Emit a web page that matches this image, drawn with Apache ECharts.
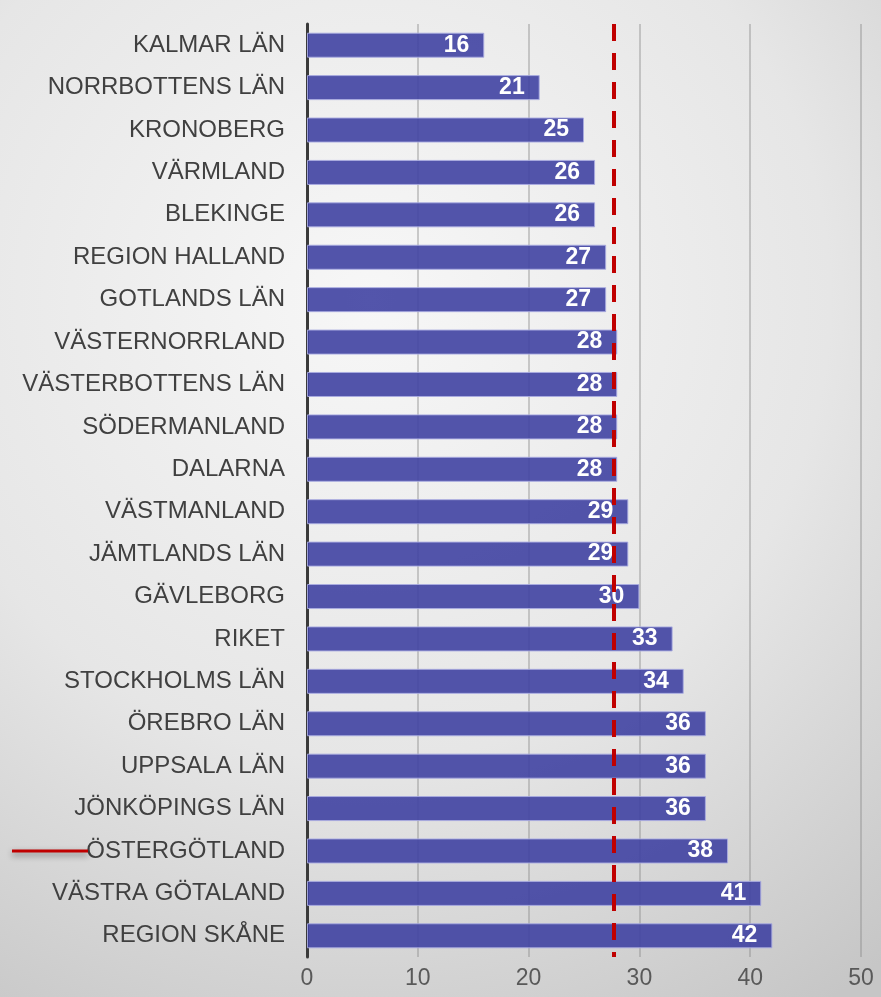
<!DOCTYPE html>
<html>
<head>
<meta charset="utf-8">
<script src="https://cdn.jsdelivr.net/npm/echarts@6/dist/echarts.min.js"></script>
<style>
  html, body { margin: 0; padding: 0; }
  #chart { width: 881px; height: 997px; }
</style>
</head>
<body>
<div id="chart"></div>
<script>
// regions, top to bottom as drawn
var regions = [
    "KALMAR LÄN", "NORRBOTTENS LÄN", "KRONOBERG", "VÄRMLAND", "BLEKINGE",
    "REGION HALLAND", "GOTLANDS LÄN", "VÄSTERNORRLAND", "VÄSTERBOTTENS LÄN",
    "SÖDERMANLAND", "DALARNA", "VÄSTMANLAND", "JÄMTLANDS LÄN", "GÄVLEBORG",
    "RIKET", "STOCKHOLMS LÄN", "ÖREBRO LÄN", "UPPSALA LÄN", "JÖNKÖPINGS LÄN",
    "ÖSTERGÖTLAND", "VÄSTRA GÖTALAND", "REGION SKÅNE"
];
var values = [16, 21, 25, 26, 26, 27, 27, 28, 28, 28, 28, 29, 29, 30, 33, 34, 36, 36, 36, 38, 41, 42];
var refValue = 27.7; // dashed red reference line
var xTicks = [0, 10, 20, 30, 40, 50];

var chart = echarts.init(document.getElementById("chart"));

var option = {
    animation: false,
    backgroundColor: {
        type: "radial", x: 0.42, y: 0.3, r: 0.95,
        colorStops: [
            { offset: 0, color: "#f7f7f7" },
            { offset: 0.55, color: "#e6e6e6" },
            { offset: 1, color: "#c6c6c6" }
        ]
    },
    grid: { left: 307, right: 20, top: 24, bottom: 40 },
    xAxis: {
        type: "value",
        min: xTicks[0],
        max: xTicks[xTicks.length - 1],
        interval: 10,
        axisLine: { show: false },
        axisTick: { show: false },
        axisLabel: {
            color: "#595959", fontSize: 23, margin: 10,
            fontFamily: "Liberation Sans, Arial, sans-serif"
        },
        splitLine: { show: true, lineStyle: { color: "rgba(140,140,140,0.55)", width: 1.5 } }
    },
    yAxis: {
        type: "category",
        data: regions,
        inverse: true,
        axisLine: { show: true, lineStyle: { color: "#3a3a3a", width: 3 } },
        axisTick: { show: false },
        axisLabel: {
            color: "#404040", fontSize: 24, margin: 22,
            fontFamily: "Liberation Sans, Arial, sans-serif"
        }
    },
    series: [{
        type: "bar",
        data: values,
        barWidth: "59%",
        itemStyle: {
            color: "rgba(64,66,162,0.9)",
            borderColor: "rgba(170,172,225,0.9)",
            borderWidth: 1
        },
        label: {
            show: true,
            position: "insideRight",
            distance: 15,
            color: "#ffffff",
            fontSize: 23,
            fontWeight: "bold",
            fontFamily: "Liberation Sans, Arial, sans-serif"
        },
        markLine: {
            silent: true,
            symbol: ["none", "none"],
            label: { show: false },
            lineStyle: { color: "#c00000", type: [17, 12], width: 4 },
            data: [{ xAxis: refValue }]
        }
    }],
    graphic: [{
        type: "line",
        shape: { x1: 12, y1: 851, x2: 88, y2: 851 },
        style: {
            stroke: "#c00000", lineWidth: 3,
            shadowBlur: 6, shadowColor: "rgba(0,0,0,0.45)", shadowOffsetY: 3
        },
        z: 10
    }]
};

chart.setOption(option);
window.addEventListener("resize", function() { chart.resize(); });
</script>
</body>
</html>
